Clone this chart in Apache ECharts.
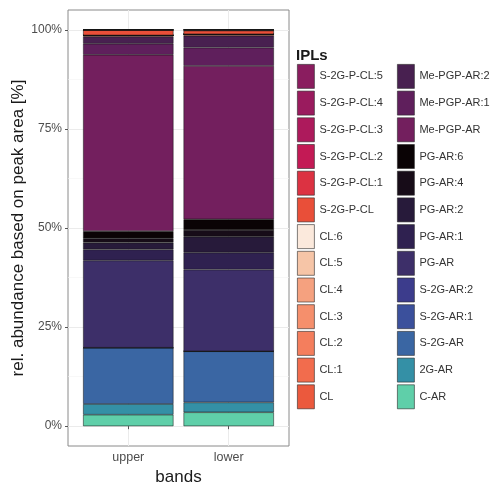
<!DOCTYPE html>
<html>
<head>
<meta charset="utf-8">
<script src="https://cdn.jsdelivr.net/npm/echarts@6/dist/echarts.min.js"></script>
<style>
  html, body { margin: 0; padding: 0; background: #ffffff; }
  #chart { width: 494px; height: 483px; }
</style>
</head>
<body>
<div id="chart"></div>
<script>
// Sample bands on the x axis
const bands = ['upper', 'lower'];

// IPL classes, stacked from the bottom of each bar to the top
const ipls = [
  'C-AR', '2G-AR', 'S-2G-AR', 'S-2G-AR:1', 'S-2G-AR:2',
  'PG-AR', 'PG-AR:1', 'PG-AR:2', 'PG-AR:4', 'PG-AR:6',
  'Me-PGP-AR', 'Me-PGP-AR:1', 'Me-PGP-AR:2',
  'CL', 'CL:1', 'CL:2', 'CL:3', 'CL:4', 'CL:5', 'CL:6',
  'S-2G-P-CL', 'S-2G-P-CL:1', 'S-2G-P-CL:2', 'S-2G-P-CL:3', 'S-2G-P-CL:4', 'S-2G-P-CL:5'
];

// Relative abundance (% of peak area), same order as ipls
const upperValues = [
  2.9, 2.7, 14.2, 0, 0,
  22.0, 2.8, 1.7, 1.1, 1.8,
  44.5, 2.8, 1.8,
  0.3, 0, 0, 0, 0, 0, 0,
  1.4, 0, 0, 0, 0, 0
];
const lowerValues = [
  3.5, 2.5, 12.9, 0, 0,
  20.6, 4.3, 4.0, 1.7, 2.7,
  38.7, 4.6, 3.0,
  0.4, 0, 0, 0, 0, 0, 0,
  0.9, 0.2, 0, 0, 0, 0
];

// Fill colour for each IPL class
const iplColors = {
  'C-AR': '#5fcfa9', '2G-AR': '#3490a6', 'S-2G-AR': '#3a66a3',
  'S-2G-AR:1': '#3b509c', 'S-2G-AR:2': '#3c3c8c',
  'PG-AR': '#3d2f69', 'PG-AR:1': '#2f2150', 'PG-AR:2': '#271a3a',
  'PG-AR:4': '#170c18', 'PG-AR:6': '#0a0305',
  'Me-PGP-AR': '#731f5e', 'Me-PGP-AR:1': '#5f1f5c', 'Me-PGP-AR:2': '#482050',
  'CL': '#eb593d', 'CL:1': '#f26c4d', 'CL:2': '#f47e5d', 'CL:3': '#f58f6c',
  'CL:4': '#f5a17f', 'CL:5': '#f6c5a7', 'CL:6': '#fbe9dc',
  'S-2G-P-CL': '#e94f39', 'S-2G-P-CL:1': '#dc3242', 'S-2G-P-CL:2': '#c31a55',
  'S-2G-P-CL:3': '#ad1a5c', 'S-2G-P-CL:4': '#9a1b5e', 'S-2G-P-CL:5': '#8a1d5f'
};

// Legend columns, top to bottom
const legendLeft = ['S-2G-P-CL:5', 'S-2G-P-CL:4', 'S-2G-P-CL:3', 'S-2G-P-CL:2', 'S-2G-P-CL:1',
  'S-2G-P-CL', 'CL:6', 'CL:5', 'CL:4', 'CL:3', 'CL:2', 'CL:1', 'CL'];
const legendRight = ['Me-PGP-AR:2', 'Me-PGP-AR:1', 'Me-PGP-AR', 'PG-AR:6', 'PG-AR:4',
  'PG-AR:2', 'PG-AR:1', 'PG-AR', 'S-2G-AR:2', 'S-2G-AR:1', 'S-2G-AR', '2G-AR', 'C-AR'];

const yTicks = [0, 25, 50, 75, 100];
const yMinor = [12.5, 37.5, 62.5, 87.5];
const FONT = 'Liberation Sans, Arial, sans-serif';

// Panel box: 68..289 x 10..446, y range -5..105, x range 0.4..2.6
const PANEL = { left: 68, right: 205, top: 10, bottom: 37 };
const pxPerY = (483 - PANEL.top - PANEL.bottom) / 110;
const pxPerX = (494 - PANEL.left - PANEL.right) / 2.2;
// Bar grid: categories centred at x = 1 and x = 2 of the panel scale, y = 0..100
const BARS = {
  left: PANEL.left + 0.1 * pxPerX,
  right: PANEL.right + 0.1 * pxPerX,
  top: PANEL.top + 5 * pxPerY,
  bottom: PANEL.bottom + 5 * pxPerY
};

const series = ipls.map((name, i) => ({
  name: name,
  type: 'bar',
  stack: 'total',
  xAxisIndex: 1,
  yAxisIndex: 2,
  barWidth: 0.9 * pxPerX,
  itemStyle: { color: iplColors[name], borderColor: 'rgba(20,20,20,0.85)', borderWidth: 0.6 },
  emphasis: { disabled: true },
  data: [upperValues[i], lowerValues[i]]
}));

const legendBase = {
  orient: 'vertical',
  top: 64,
  padding: 0,
  itemWidth: 17,
  itemHeight: 24,
  itemGap: 1.9,
  icon: 'rect',
  selectedMode: false,
  itemStyle: { borderWidth: 0.8, borderColor: 'rgba(40,40,40,0.75)' },
  textStyle: { fontFamily: FONT, fontSize: 11, color: '#333333' }
};

const chart = echarts.init(document.getElementById('chart'), null, { renderer: 'canvas' });
chart.setOption({
  animation: false,
  backgroundColor: '#ffffff',
  title: {
    text: 'IPLs', left: 296, top: 48, padding: 0,
    textStyle: { fontFamily: FONT, fontSize: 15, fontWeight: 'bold', color: '#1a1a1a' }
  },
  legend: [
    Object.assign({}, legendBase, { left: 297, data: legendLeft }),
    Object.assign({}, legendBase, { left: 397, data: legendRight })
  ],
  grid: [
    Object.assign({
      show: true, borderColor: '#8a8a8a', borderWidth: 1, backgroundColor: 'transparent',
      containLabel: false, outerBoundsMode: 'none'
    }, PANEL),
    Object.assign({ show: false, containLabel: false, outerBoundsMode: 'none' }, BARS)
  ],
  xAxis: [{
    gridIndex: 0, type: 'value', min: 0.4, max: 2.6,
    name: 'bands', nameLocation: 'middle', nameGap: 14,
    nameTextStyle: { fontFamily: FONT, fontSize: 17, color: '#1a1a1a' },
    axisLine: { show: false },
    axisTick: { show: true, length: 3, customValues: [1, 2], lineStyle: { color: '#555555' } },
    axisLabel: {
      customValues: [1, 2], margin: 5,
      fontFamily: FONT, fontSize: 12.5, color: '#4d4d4d',
      formatter: v => bands[Math.round(v) - 1]
    },
    splitLine: { show: true, lineStyle: { color: '#ebebeb', width: 1 } }
  }, {
    gridIndex: 1, type: 'category', data: bands, boundaryGap: true,
    show: false
  }],
  yAxis: [{
    gridIndex: 0, type: 'value', min: -5, max: 105,
    name: 'rel. abundance based on peak area [%]', nameLocation: 'middle', nameGap: 41,
    nameTextStyle: { fontFamily: FONT, fontSize: 17, color: '#1a1a1a' },
    axisLine: { show: false },
    axisTick: { show: true, length: 3, customValues: yTicks, lineStyle: { color: '#555555' } },
    axisLabel: {
      customValues: yTicks, margin: 6,
      fontFamily: FONT, fontSize: 12, color: '#4d4d4d',
      formatter: v => v + '%'
    },
    splitLine: { show: true, lineStyle: { color: '#ebebeb', width: 1 } }
  }, {
    // minor grid lines between the labelled ticks
    gridIndex: 0, type: 'value', min: -5, max: 105, position: 'left',
    axisLine: { show: false },
    axisTick: { show: false, customValues: yMinor },
    axisLabel: { show: false },
    splitLine: { show: true, lineStyle: { color: '#f3f3f3', width: 0.6 } }
  }, {
    gridIndex: 1, type: 'value', min: 0, max: 100, show: false,
    splitLine: { show: false }
  }],
  series: series
});
</script>
</body>
</html>
